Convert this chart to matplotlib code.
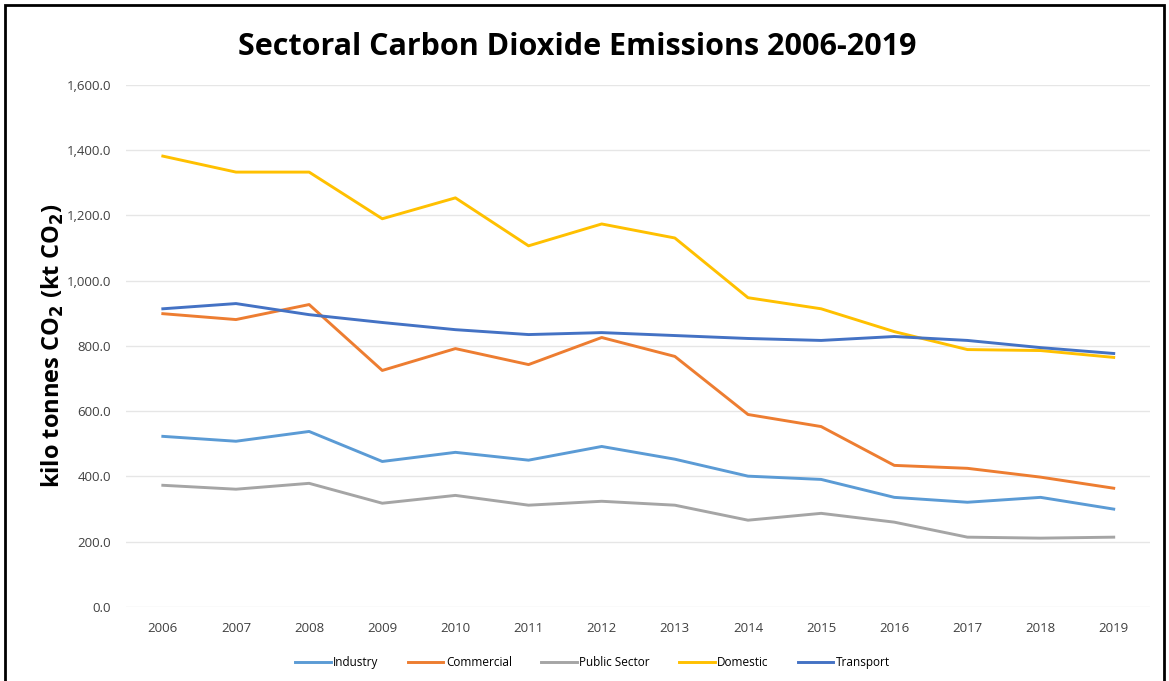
import matplotlib.pyplot as plt
from matplotlib.patches import Rectangle
from matplotlib.ticker import FuncFormatter

years = list(range(2006, 2020))
industry = [523, 508, 538, 446, 474, 450, 492, 453, 401, 391, 336, 321, 336, 300]
commercial = [899, 881, 927, 725, 792, 743, 826, 768, 590, 553, 434, 425, 398, 364]
public_sector = [373, 361, 379, 318, 342, 312, 324, 312, 266, 287, 260, 214, 211, 214]
domestic = [1382, 1333, 1333, 1190, 1254, 1107, 1174, 1131, 948, 914, 844, 789, 786, 765]
transport = [914, 930, 896, 872, 850, 835, 841, 832, 823, 817, 829, 817, 795, 777]

series = [
    ('Industry', industry, '#5B9BD5'),
    ('Commercial', commercial, '#ED7D31'),
    ('Public Sector', public_sector, '#A5A5A5'),
    ('Domestic', domestic, '#FFC000'),
    ('Transport', transport, '#4472C4'),
]

plt.rcParams['font.family'] = ['Open Sans', 'DejaVu Sans']

fig = plt.figure(figsize=(11.69, 6.81), dpi=100)
ax = fig.add_axes([0.108, 0.1087, 0.876, 0.7665])

x = list(range(len(years)))
for name, vals, color in series:
    ax.plot(x, vals, color=color, lw=2.1, label=name)

ax.set_xlim(-0.5, len(years) - 0.5)
ax.set_ylim(0, 1600)
ax.set_yticks(range(0, 1601, 200))
ax.yaxis.set_major_formatter(FuncFormatter(lambda v, p: f'{v:,.1f}'))
ax.set_xticks(x)
ax.set_xticklabels([str(y) for y in years])
ax.tick_params(axis='both', length=0, labelsize=9.5, colors='#404040', pad=11)
ax.grid(axis='y', color='#e6e6e6', lw=1)
ax.set_axisbelow(True)
for s in ax.spines.values():
    s.set_visible(False)

ax.set_ylabel(r'kilo tonnes CO$_\mathbf{2}$ (kt CO$_\mathbf{2}$)',
              fontsize=17, fontweight='bold', labelpad=0)

fig.text(0.494, 0.931, 'Sectoral Carbon Dioxide Emissions 2006-2019',
         ha='center', va='center', fontsize=22, fontweight='bold')

fig.legend(loc='center', bbox_to_anchor=(0.507, 0.027), ncol=5, frameon=False,
           fontsize=8.5, handlelength=3, columnspacing=2.5, handletextpad=0.2)

# frame round the chart (bottom edge falls outside the image)
fig.patches.append(Rectangle((0.004, -0.02), 0.992, 1.013, transform=fig.transFigure,
                             fill=False, edgecolor='black', lw=2))

fig.savefig('out.png', dpi=100)
